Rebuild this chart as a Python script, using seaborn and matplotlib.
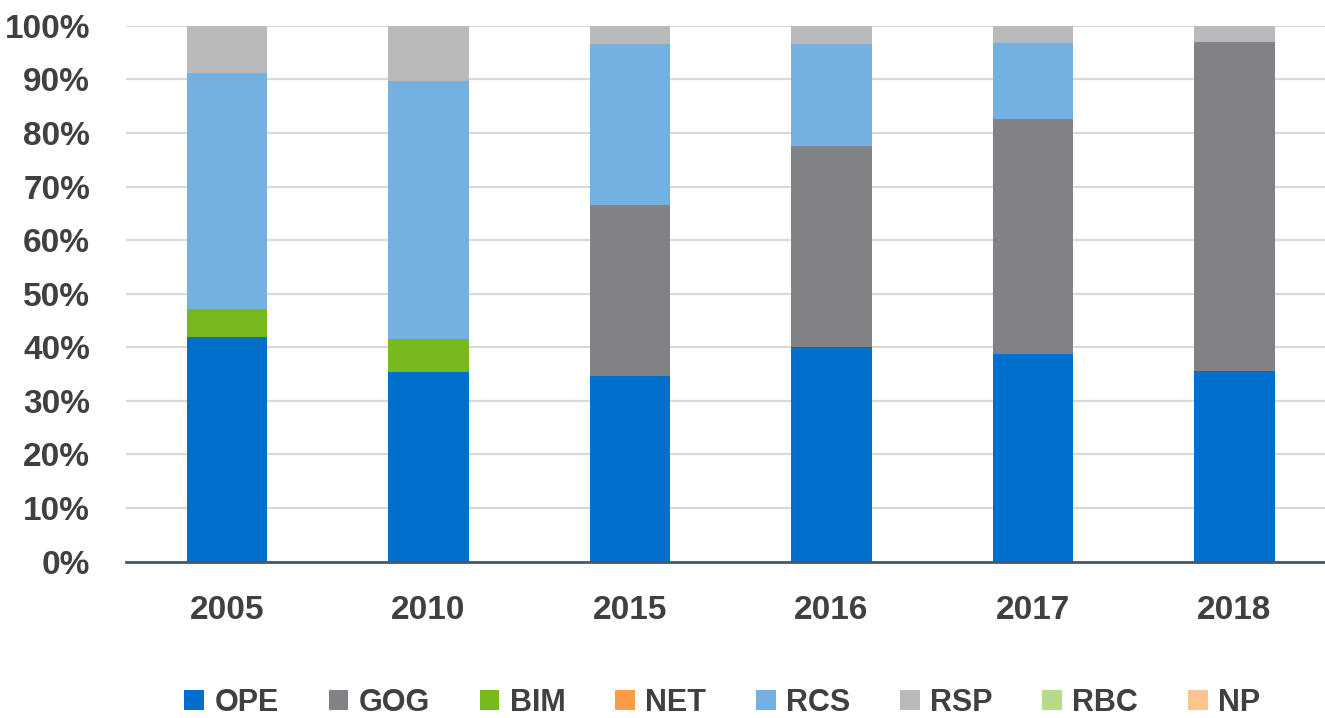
import numpy as np
import pandas as pd
import seaborn as sns
import matplotlib.pyplot as plt
from matplotlib.patches import Patch
from matplotlib.ticker import FuncFormatter, MultipleLocator

years = ['2005', '2010', '2015', '2016', '2017', '2018']
ope = [41.9, 35.4, 34.6, 40.1, 38.8, 35.5]
gog = [0.0, 0.0, 31.9, 37.5, 43.8, 61.4]
bim = [5.3, 6.1, 0.0, 0.0, 0.0, 0.0]
net = [0.0, 0.0, 0.0, 0.0, 0.0, 0.0]
rcs = [43.9, 48.2, 30.0, 18.9, 14.2, 0.0]
rsp = [8.9, 10.3, 3.5, 3.5, 3.2, 3.1]
rbc = [0.0, 0.0, 0.0, 0.0, 0.0, 0.0]
np_ = [0.0, 0.0, 0.0, 0.0, 0.0, 0.0]

segments = ['OPE', 'GOG', 'BIM', 'NET', 'RCS', 'RSP', 'RBC', 'NP']
colors = ['#0070CC', '#818286', '#78B920', '#FB9B48', '#74B1E3', '#B9BABC', '#B4DC88', '#FDC490']

df = pd.DataFrame({'year': years, 'OPE': ope, 'GOG': gog, 'BIM': bim, 'NET': net,
                   'RCS': rcs, 'RSP': rsp, 'RBC': rbc, 'NP': np_})
cum = df[segments].cumsum(axis=1)

sns.set_style('white')
font = ['Liberation Sans Narrow', 'Liberation Sans', 'DejaVu Sans']
plt.rcParams['font.family'] = font
plt.rcParams['font.weight'] = 'bold'
text_col = '#404040'

fig = plt.figure(figsize=(13.25, 7.18), dpi=100)
ax = fig.add_axes([0.0952, 0.2177, 0.9125, 0.7465])

# stacked bars: draw cumulative totals from the top segment down
for seg, col in reversed(list(zip(segments, colors))):
    sns.barplot(x=df['year'], y=cum[seg], color=col, saturation=1, width=0.4,
                linewidth=0, ax=ax)

ax.set_ylim(0, 100)
ax.set_xlim(-0.5, 5.5)
ax.yaxis.set_major_locator(MultipleLocator(10))
ax.yaxis.set_major_formatter(FuncFormatter(lambda v, p: f'{v:.0f}%'))
ax.grid(axis='y', color='#D9D9D9', linewidth=1.6)
ax.set_axisbelow(True)
for s in ['top', 'right', 'left']:
    ax.spines[s].set_visible(False)
ax.spines['bottom'].set_color('#4A5866')
ax.spines['bottom'].set_linewidth(2)
ax.tick_params(axis='y', length=0, pad=26, labelsize=24, labelcolor=text_col)
ax.tick_params(axis='x', length=0, pad=24, labelsize=24, labelcolor=text_col)
ax.set_xlabel('')
ax.set_ylabel('')

handles = [Patch(facecolor=c, edgecolor='none') for c in colors]
fig.legend(handles, segments, loc='center', bbox_to_anchor=(0.545, 0.021),
           ncol=8, frameon=False, fontsize=22, handlelength=0.65, handleheight=0.65,
           handletextpad=0.33, columnspacing=1.63, labelcolor=text_col)

plt.savefig('out.png', dpi=100)
